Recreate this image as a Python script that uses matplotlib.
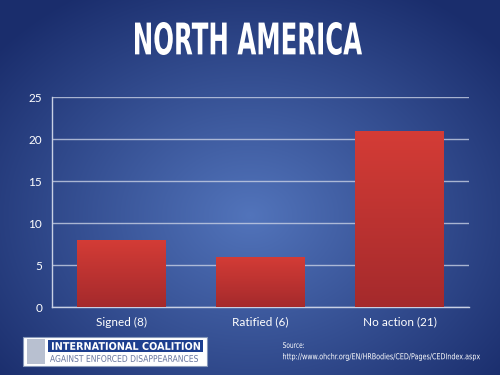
import matplotlib
matplotlib.use('Agg')
import matplotlib.pyplot as plt
import numpy as np
from matplotlib.patches import Rectangle, PathPatch
from matplotlib.textpath import TextPath
from matplotlib.font_manager import FontProperties
from matplotlib.transforms import Affine2D

matplotlib.rcParams['font.family'] = ['Lato', 'DejaVu Sans']

# data
categories = ['Signed (8)', 'Ratified (6)', 'No action (21)']
values = [8, 6, 21]
yticks = [0, 5, 10, 15, 20, 25]

fig = plt.figure(figsize=(5, 3.75), dpi=100)

# radial blue background
bg = fig.add_axes([0, 0, 1, 1], zorder=0)
yy, xx = np.mgrid[0:375, 0:500]
r = np.sqrt(((xx - 250) / 330.0) ** 2 + ((yy - 215) / 260.0) ** 2)
r = np.clip(r, 0, 1)
c_in = np.array([0x52, 0x74, 0xbb]) / 255.0
c_out = np.array([0x1a, 0x2d, 0x6c]) / 255.0
img = c_in[None, None, :] * (1 - r[..., None]) + c_out[None, None, :] * r[..., None]
bg.imshow(img, extent=[0, 500, 375, 0], aspect='auto')
bg.set_xlim(0, 500)
bg.set_ylim(375, 0)
bg.axis('off')


def boxed_text(s, x0, x1, ytop, ybot, weight='normal', color='white'):
    # squeeze a text into a pixel box (narrow fonts are not installed)
    tp = TextPath((0, 0), s, size=10, prop=FontProperties(family='DejaVu Sans', weight=weight))
    ext = tp.get_extents()
    sx = (x1 - x0) / ext.width
    sy = (ybot - ytop) / ext.height
    t = Affine2D().translate(-ext.x0, -ext.y0).scale(sx, -sy).translate(x0, ybot)
    bg.add_patch(PathPatch(t.transform_path(tp), facecolor=color, edgecolor='none', lw=0))


ax = fig.add_axes([52 / 500, 1 - 307 / 375, 417 / 500, 210 / 375], zorder=1)
ax.patch.set_alpha(0)
x = np.arange(len(categories))
bars = ax.bar(x, values, width=0.64, color='#c03430', zorder=2)

# vertical red gradient inside each bar
grad = np.linspace(0, 1, 100)[:, None]
top = np.array([0xd4, 0x3c, 0x36]) / 255.0
bot = np.array([0xa5, 0x2a, 0x2c]) / 255.0
gimg = top[None, None, :] * (1 - grad[..., None]) + bot[None, None, :] * grad[..., None]
for b in bars:
    im = ax.imshow(gimg, extent=[b.get_x(), b.get_x() + b.get_width(), 0, b.get_height()],
                   aspect='auto', zorder=3)
    im.set_clip_path(b)

ax.set_xlim(-0.5, 2.5)
ax.set_ylim(0, 25)
ax.set_yticks(yticks)
ax.set_xticks(x)
ax.set_xticklabels(categories)
ax.tick_params(axis='both', colors='white', labelsize=8.5, length=0, pad=7)
ax.yaxis.grid(True, color='#c8d0e4', linewidth=1, alpha=0.8, zorder=1)
ax.set_axisbelow(True)
for s in ['top', 'right']:
    ax.spines[s].set_visible(False)
for s in ['left', 'bottom']:
    ax.spines[s].set_color('#c8d0e4')
    ax.spines[s].set_linewidth(1)

# title, condensed
boxed_text('NORTH AMERICA', 135, 362, 22, 55, weight='bold')

# logo box
bg.add_patch(Rectangle((23, 337), 184, 29, facecolor='white', edgecolor='#8899bb', lw=0.8))
bg.add_patch(Rectangle((48, 340), 155, 12, facecolor='#1d3f8f', edgecolor='none'))
boxed_text('INTERNATIONAL COALITION', 52, 200, 342, 350, weight='bold')
boxed_text('AGAINST ENFORCED DISAPPEARANCES', 50, 198, 355, 362, color='#6a78a0')
bg.add_patch(Rectangle((27, 339), 18, 25, facecolor='#b8c0d0', edgecolor='none'))

boxed_text('Source:', 283, 304, 342, 348)
boxed_text('http://www.ohchr.org/EN/HRBodies/CED/Pages/CEDIndex.aspx', 283, 480, 353, 361)

fig.savefig('out.png', dpi=100)
